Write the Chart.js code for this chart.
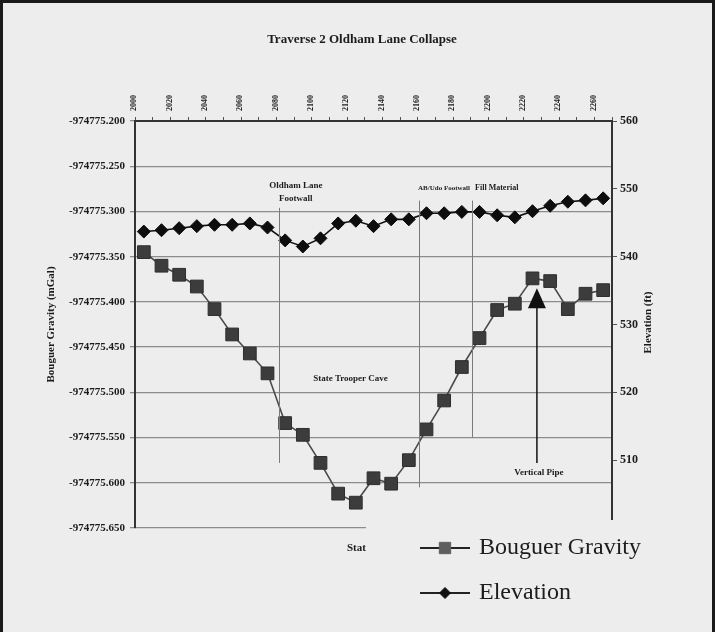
<!DOCTYPE html>
<html>
<head>
<meta charset="utf-8">
<title>Traverse 2 Oldham Lane Collapse</title>
<script src="https://cdn.jsdelivr.net/npm/chart.js@4/dist/chart.umd.min.js"></script>
<style>
  html, body { margin: 0; padding: 0; background: #ededed; }
  #wrap { position: relative; width: 715px; height: 632px; }
  canvas { display: block; }
</style>
</head>
<body>
<div id="wrap"><canvas id="c" width="715" height="632"></canvas></div>
<script>
// Survey stations along the traverse
const stations = [2000, 2010, 2020, 2030, 2040, 2050, 2060, 2070, 2080, 2090,
                  2100, 2110, 2120, 2130, 2140, 2150, 2160, 2170, 2180, 2190,
                  2200, 2210, 2220, 2230, 2240, 2250, 2260];

// Bouguer gravity (mGal) at each station
const gravity = [-974775.345, -974775.360, -974775.370, -974775.383, -974775.408,
                 -974775.436, -974775.457, -974775.479, -974775.534, -974775.547,
                 -974775.578, -974775.612, -974775.622, -974775.595, -974775.601,
                 -974775.575, -974775.541, -974775.509, -974775.472, -974775.440,
                 -974775.409, -974775.402, -974775.374, -974775.377, -974775.408,
                 -974775.391, -974775.387];

// Ground elevation (ft) at each station
const elevation = [543.7, 543.9, 544.2, 544.5, 544.7, 544.7, 544.9, 544.3, 542.4, 541.5,
                   542.7, 544.9, 545.3, 544.5, 545.5, 545.5, 546.4, 546.4, 546.6, 546.6,
                   546.1, 545.8, 546.7, 547.5, 548.1, 548.3, 548.6];

// Axis ticks
const gravityTicks = [-974775.200, -974775.250, -974775.300, -974775.350, -974775.400,
                      -974775.450, -974775.500, -974775.550, -974775.600, -974775.650];
const elevationTicks = [500, 510, 520, 530, 540, 550, 560];
const stationTickEvery = 20;

// Feature notes: station of the marker line, its gravity range, label lines
const featureNotes = [
  { station: 2076.5, from: -974775.296, to: -974775.578, text: ['Oldham Lane', 'Footwall'],
    at: 2086, textY: -974775.271, align: 'center', size: 9 },
  { station: 2155.5, from: -974775.288, to: -974775.605, text: ['AB/Udo Footwall'],
    at: 2155.2, textY: -974775.274, align: 'left', size: 7 },
  { station: 2186, from: -974775.288, to: -974775.550, text: ['Fill Material'],
    at: 2187.5, textY: -974775.274, align: 'left', size: 8 }
];
const caveNote = { station: 2117, gravity: -974775.485, text: 'State Trooper Cave' };
const pipeNote = { station: 2222.5, tip: -974775.385, base: -974775.578, text: 'Vertical Pipe' };

const SERIF = '"Liberation Serif", "Times New Roman", serif';
const INK = '#1c1c1c';
const PAPER = '#ededed';

const decor = {
  id: 'decor',
  beforeDraw(chart) {
    const { ctx, width, height } = chart;
    ctx.save();
    ctx.fillStyle = PAPER;
    ctx.fillRect(0, 0, width, height);
    ctx.restore();
  },
  afterDatasetsDraw(chart) {
    const { ctx } = chart;
    const xs = chart.scales.x, yg = chart.scales.yG;
    const px = s => xs.getPixelForValue((s - stations[0]) / 10);
    ctx.save();
    // feature marker lines and notes
    ctx.strokeStyle = '#7a7a7a';
    ctx.lineWidth = 1;
    ctx.fillStyle = INK;
    ctx.textBaseline = 'middle';
    featureNotes.forEach(n => {
      const x = Math.round(px(n.station)) + 0.5;
      ctx.beginPath();
      ctx.moveTo(x, yg.getPixelForValue(n.from));
      ctx.lineTo(x, yg.getPixelForValue(n.to));
      ctx.stroke();
      ctx.font = 'bold ' + n.size + 'px ' + SERIF;
      ctx.textAlign = n.align;
      const ty = yg.getPixelForValue(n.textY);
      n.text.forEach((t, i) => ctx.fillText(t, px(n.at), ty + i * 13));
    });
    ctx.font = 'bold 9px ' + SERIF;
    ctx.textAlign = 'center';
    ctx.fillText(caveNote.text, px(caveNote.station), yg.getPixelForValue(caveNote.gravity));
    // vertical pipe arrow
    const ax = px(pipeNote.station);
    const tipY = yg.getPixelForValue(pipeNote.tip);
    const baseY = yg.getPixelForValue(pipeNote.base);
    ctx.strokeStyle = '#111';
    ctx.lineWidth = 1.5;
    ctx.beginPath();
    ctx.moveTo(ax, tipY + 16);
    ctx.lineTo(ax, baseY);
    ctx.stroke();
    ctx.fillStyle = '#111';
    ctx.beginPath();
    ctx.moveTo(ax, tipY);
    ctx.lineTo(ax - 9, tipY + 20);
    ctx.lineTo(ax + 9, tipY + 20);
    ctx.closePath();
    ctx.fill();
    ctx.fillStyle = INK;
    ctx.fillText(pipeNote.text, ax + 2, baseY + 10);
    ctx.restore();
  },
  afterDraw(chart) {
    const { ctx, chartArea: ca, width, height } = chart;
    ctx.save();
    // chart title
    ctx.fillStyle = INK;
    ctx.font = 'bold 13px ' + SERIF;
    ctx.textAlign = 'center';
    ctx.textBaseline = 'middle';
    ctx.fillText('Traverse 2 Oldham Lane Collapse', 362, 40);
    // elevation axis title
    ctx.save();
    ctx.font = 'bold 11px ' + SERIF;
    ctx.translate(648, (ca.top + ca.bottom) / 2 - 2);
    ctx.rotate(-Math.PI / 2);
    ctx.fillText('Elevation (ft)', 0, 0);
    ctx.restore();
    // station axis title
    ctx.font = 'bold 11px ' + SERIF;
    ctx.textAlign = 'left';
    ctx.fillText('Station', 347, 548);
    // legend panel
    const lx = 366, ly = 520;
    ctx.fillStyle = PAPER;
    ctx.fillRect(lx, ly, width - lx, height - ly);
    chart.data.datasets.forEach((ds, i) => {
      const y = 548 + i * 45;
      ctx.strokeStyle = '#222';
      ctx.lineWidth = 2;
      ctx.beginPath();
      ctx.moveTo(420, y);
      ctx.lineTo(470, y);
      ctx.stroke();
      ctx.fillStyle = ds.legendFill;
      ctx.strokeStyle = ds.legendFill;
      ctx.lineWidth = 1;
      Chart.helpers.drawPoint(ctx, { pointStyle: ds.pointStyle, rotation: 0, borderWidth: 1, radius: ds.legendRadius }, 445, y);
      ctx.fillStyle = INK;
      ctx.font = '24px ' + SERIF;
      ctx.textAlign = 'left';
      ctx.textBaseline = 'middle';
      ctx.fillText(ds.label, 479, y);
    });
    // frame
    ctx.fillStyle = '#1a1a1a';
    ctx.fillRect(0, 0, width, 3);
    ctx.fillRect(0, 0, 3, height);
    ctx.fillRect(width - 3, 0, 3, height);
    ctx.restore();
  }
};

new Chart(document.getElementById('c'), {
  type: 'line',
  data: {
    labels: stations.map(String),
    datasets: [
      {
        label: 'Bouguer Gravity',
        data: gravity,
        yAxisID: 'yG',
        borderColor: '#4a4a4a',
        borderWidth: 1.6,
        pointStyle: 'rect',
        pointRadius: 9,
        pointBackgroundColor: '#3c3c3c',
        pointBorderColor: '#2e2e2e',
        pointBorderWidth: 1,
        legendFill: '#5e5e5e',
        legendRadius: 8,
        tension: 0
      },
      {
        label: 'Elevation',
        data: elevation,
        yAxisID: 'yE',
        borderColor: '#111111',
        borderWidth: 1.6,
        pointStyle: 'rectRot',
        pointRadius: 6.5,
        pointBackgroundColor: '#0d0d0d',
        pointBorderColor: '#0d0d0d',
        pointBorderWidth: 1,
        legendFill: '#111111',
        legendRadius: 5.5,
        tension: 0
      }
    ]
  },
  options: {
    responsive: false,
    animation: false,
    devicePixelRatio: 1,
    layout: { padding: { left: 0, right: 0, top: 0, bottom: 104 } },
    plugins: { legend: { display: false }, tooltip: { enabled: false }, title: { display: false } },
    scales: {
      x: {
        type: 'category',
        position: 'top',
        offset: true,
        afterFit: s => { s.height = 121; },
        border: { display: true, color: '#333', width: 2 },
        grid: { drawOnChartArea: false, drawTicks: true, tickLength: 4, color: '#555', offset: true },
        ticks: {
          autoSkip: false,
          maxRotation: 90,
          minRotation: 90,
          padding: 6,
          color: INK,
          font: { family: SERIF, size: 8, weight: 'bold' },
          callback: (v, i) => (stations[i] % stationTickEvery === 0 ? String(stations[i]) : '')
        }
      },
      yG: {
        type: 'linear',
        position: 'left',
        min: gravityTicks[gravityTicks.length - 1],
        max: gravityTicks[0],
        afterFit: s => { s.width = 135; },
        afterBuildTicks: s => { s.ticks = gravityTicks.map(v => ({ value: v })); },
        border: { display: true, color: '#333', width: 2 },
        grid: { color: '#8c8c8c', lineWidth: 1.3, tickLength: 5 },
        title: {
          display: true,
          text: 'Bouguer Gravity (mGal)',
          color: INK,
          font: { family: SERIF, size: 11, weight: 'bold' },
          padding: { top: 45, bottom: 0 }
        },
        ticks: {
          color: INK,
          padding: 5,
          font: { family: SERIF, size: 11, weight: 'bold' },
          callback: v => Number(v).toFixed(3)
        }
      },
      yE: {
        type: 'linear',
        position: 'right',
        min: elevationTicks[0],
        max: elevationTicks[elevationTicks.length - 1],
        afterFit: s => { s.width = 103; },
        afterBuildTicks: s => { s.ticks = elevationTicks.map(v => ({ value: v })); },
        border: { display: true, color: '#333', width: 2 },
        grid: { drawOnChartArea: false, color: '#555', tickLength: 5 },
        ticks: {
          color: INK,
          padding: 3,
          font: { family: SERIF, size: 12, weight: 'bold' },
          callback: v => String(v)
        }
      }
    }
  },
  plugins: [decor]
});
</script>
</body>
</html>
